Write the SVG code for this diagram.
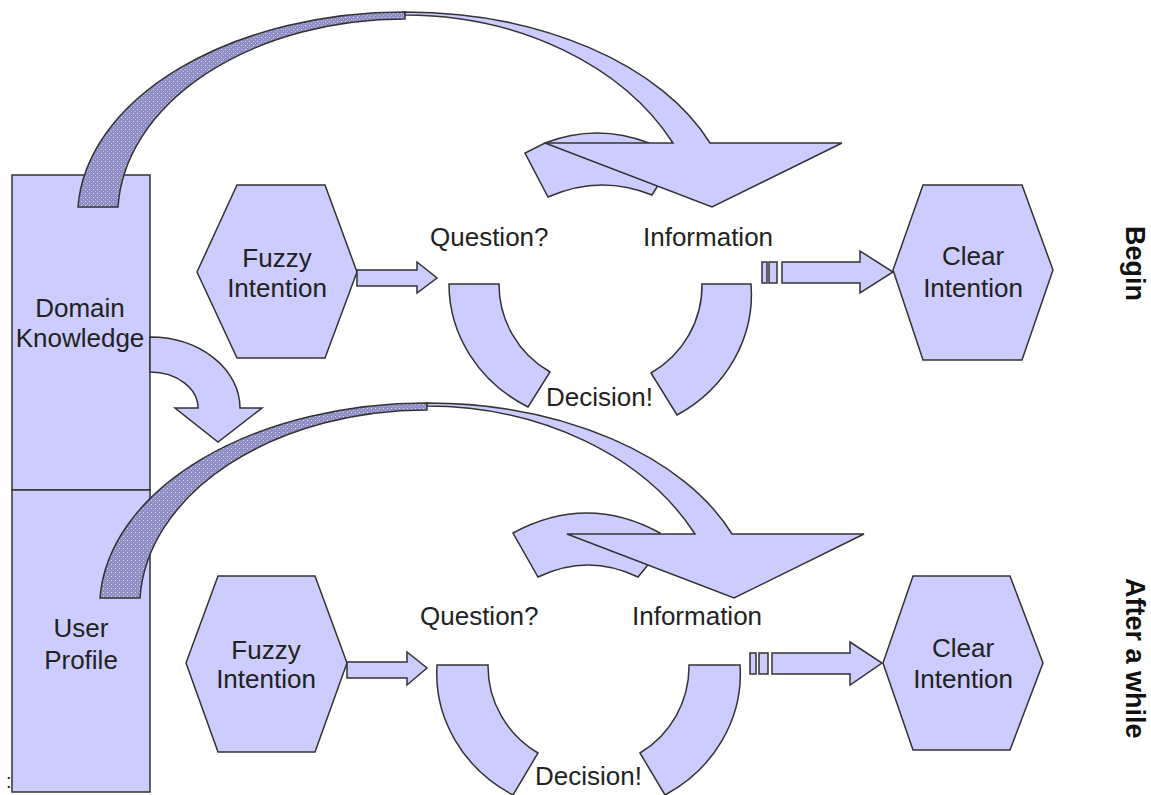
<svg xmlns="http://www.w3.org/2000/svg" width="1151" height="795" viewBox="0 0 1151 795">
<defs>
<pattern id="stip" width="4" height="4" patternUnits="userSpaceOnUse">
<rect width="4" height="4" fill="#8f8fc6"/>
<rect x="1" y="1" width="1" height="1" fill="#dcdcf2"/>
<rect x="3" y="3" width="1" height="1" fill="#bcbce2"/>
</pattern>
<style>
.s{fill:#ccccff;stroke:#333;stroke-width:1.5;stroke-linejoin:miter}
.d{fill:url(#stip);stroke:#333;stroke-width:1.5}
.t{font-family:"Liberation Sans",Arial,sans-serif;font-size:26px;fill:#222}
.m{text-anchor:middle}
.b{font-family:"Liberation Sans",Arial,sans-serif;font-size:27px;font-weight:bold;fill:#111}
</style>
<g id="bigArc">
<path class="d" d="M 78 207 A 327 205 0 0 1 405 12 L 405 19 A 287 197 0 0 0 118 207 Z"/>
<path class="s" d="M 405 12 A 327 205 0 0 1 710 143 L 842 143 L 712 207 L 545 143 L 673 143 A 300 232 0 0 0 405 15 Z"/>
</g>
</defs>

<g id="domain-knowledge">
<rect class="s" x="12" y="175" width="138" height="315"/>
<text class="t m" x="80" y="317">Domain</text>
<text class="t m" x="80" y="347">Knowledge</text>
</g>
<g id="user-profile">
<rect class="s" x="12" y="490" width="138" height="302"/>
<text class="t m" x="81" y="637">User</text>
<text class="t m" x="81" y="669">Profile</text>
<text class="t" x="6" y="788" style="font-size:20px">:</text>
</g>

<g id="fuzzy-top">
<polygon class="s" points="237,185 325,185 357,272 325,358 237,358 197,272"/>
<text class="t m" x="277" y="267">Fuzzy</text>
<text class="t m" x="277" y="297">Intention</text>
</g>
<g id="clear-top">
<polygon class="s" points="923,185 1022,185 1053,270 1022,360 923,360 893,270"/>
<text class="t m" x="973" y="265">Clear</text>
<text class="t m" x="973" y="297">Intention</text>
</g>
<g id="cycle-top">
<path class="s" d="M 449 284 L 499 284 A 101 101 0 0 0 550 372 L 528 407 A 151 140 0 0 1 449 284 Z"/>
<path class="s" d="M 751 284 L 702 284 A 101 101 0 0 1 651 373 L 677 415 A 151 140 0 0 0 751 284 Z"/>
<text class="t" x="430" y="246">Question?</text>
<text class="t" x="643" y="246">Information</text>
</g>

<g id="fuzzy-bottom">
<polygon class="s" points="218,576 315,576 347,663 315,752 218,752 186,663"/>
<text class="t m" x="266" y="659">Fuzzy</text>
<text class="t m" x="266" y="688">Intention</text>
</g>
<g id="clear-bottom">
<polygon class="s" points="913,576 1010,576 1043,663 1010,750 913,750 883,663"/>
<text class="t m" x="963" y="657">Clear</text>
<text class="t m" x="963" y="688">Intention</text>
</g>
<g id="cycle-bottom">
<path class="s" d="M 437 665 L 488 665 A 101 101 0 0 0 538 753 L 513 795 A 151 140 0 0 1 437 665 Z"/>
<path class="s" d="M 740 665 L 689 665 A 101 101 0 0 1 640 753 L 665 795 A 151 140 0 0 0 740 665 Z"/>
<text class="t" x="420" y="625">Question?</text>
<text class="t" x="632" y="625">Information</text>
</g>

<g id="connectors">
<path class="s" d="M 150 337 A 90 71 0 0 1 240 408 L 262 408 L 218 442 L 175 408 L 198 408 A 48 36 0 0 0 150 372 Z"/>
<path class="s" d="M 357 270 L 417 270 L 417 262 L 437 278 L 417 293 L 417 286 L 357 286 Z"/>
<rect class="s" x="762" y="262" width="5" height="21"/>
<rect class="s" x="769" y="262" width="8" height="21"/>
<path class="s" d="M 782 262 L 860 262 L 860 251 L 893 272 L 860 293 L 860 283 L 782 283 Z"/>
<path class="s" d="M 347 662 L 407 662 L 407 652 L 427 668 L 407 685 L 407 678 L 347 678 Z"/>
<rect class="s" x="750" y="653" width="6" height="21"/>
<rect class="s" x="759" y="653" width="9" height="21"/>
<path class="s" d="M 772 653 L 850 653 L 850 642 L 882 663 L 850 685 L 850 674 L 772 674 Z"/>
<g id="arc-top">
<path class="s" d="M 545 143 Q 597 123 649 143 L 657 187 L 652 195 Q 600 174 548 197 L 525 153 Z"/>
<use href="#bigArc"/>
</g>
<g id="arc-bottom">
<path class="s" d="M 513 533 Q 587 493 660 533 L 647 566 L 638 577 Q 588 553 538 577 Z"/>
<use href="#bigArc" transform="translate(22,391)"/>
</g>
</g>

<g id="labels">
<text class="t" x="546" y="406">Decision!</text>
<text class="t" x="535" y="785">Decision!</text>
<text class="b" transform="translate(1126,226) rotate(90)">Begin</text>
<text class="b" transform="translate(1126,578) rotate(90)">After a while</text>
</g>
</svg>
